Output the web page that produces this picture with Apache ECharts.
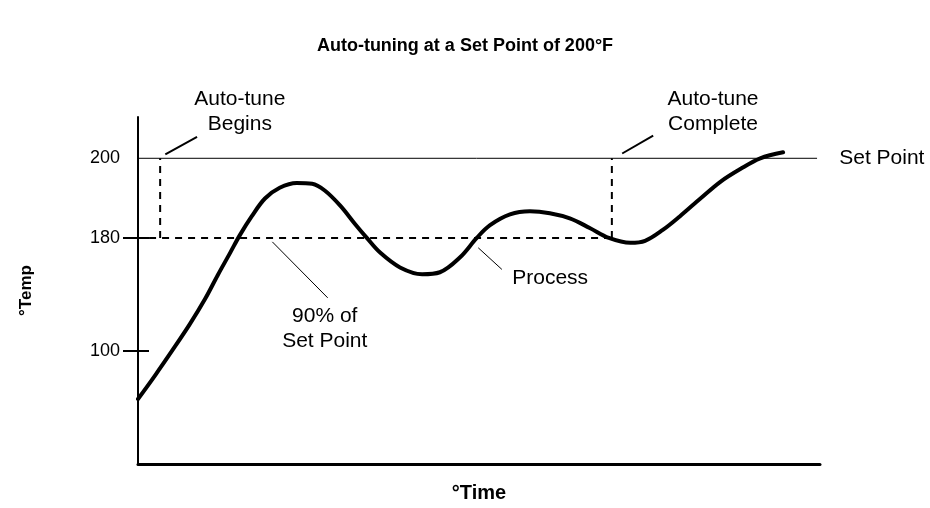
<!DOCTYPE html>
<html><head><meta charset="utf-8">
<script src="https://cdn.jsdelivr.net/npm/echarts@6/dist/echarts.min.js"></script>
<style>html,body{margin:0;padding:0;background:#fff}#c{width:930px;height:508px}</style>
</head><body><div id="c"></div>
<script>
// ---- data ----
const titleText = 'Auto-tuning at a Set Point of 200°F';
const yTickValues = [100, 180, 200];          // °F tick labels
const setPoint = 200;
const ninetyPct = 180;
// process curve: time (arbitrary units) and temperature (°F)
const timeVals = [0, 2.3, 4.6, 7.0, 9.1, 10.8, 12.5, 13.8, 15.4, 17.2, 19.2, 21.5, 23.6, 25.3, 27.4, 29.4, 31.0, 32.8, 35.5, 38.5, 40.9, 43.6, 45.9, 47.7, 50.4, 53.1, 55.8, 58.5, 61.2, 63.8, 66.7, 68.7, 71.1, 73.4, 76.2, 78.9, 81.6, 84.3, 87.4];
const tempVals = [66, 82.6, 100, 118.8, 136.9, 153.6, 169.6, 180.7, 185.4, 189.9, 192.6, 193.8, 193.6, 191.9, 188.1, 183.5, 180, 169.6, 159.1, 154.3, 155.7, 166.1, 180, 183.2, 185.9, 186.7, 186.2, 184.9, 182.5, 180, 176.5, 177.9, 182.0, 185.4, 189.9, 194.1, 197.3, 200, 201.5];
const autoTuneStart = 3.0, autoTuneEnd = 64.2;   // time of auto-tune begin / complete

// schematic (non-linear) temperature scale of the drawing: °F -> axis units
function toAxis(f) {
  return f >= 180 ? 230 + (f - 180) * 4.05 : 230 - (180 - f) * 1.4375;
}

const chart = echarts.init(document.getElementById('c'), null, {renderer: 'canvas'});
const FONT = 'Liberation Sans, Arial, sans-serif';
const black = '#000';

function seg(pts, width, type) {
  return {
    type: 'line', data: pts, symbol: 'none', clip: false, silent: true,
    lineStyle: {color: black, width: width, type: type || 'solid'},
    animation: false
  };
}

const curve = timeVals.map((t, i) => [t, toAxis(tempVals[i])]);

const option = {
  animation: false,
  title: {
    text: titleText, left: 'center', top: 32,
    textStyle: {fontFamily: FONT, fontSize: 18, fontWeight: 'bold', color: black}
  },
  grid: {left: 138, right: 110, top: 117, bottom: 21},
  xAxis: {
    type: 'value', min: 0, max: 92.4,
    name: '°Time', nameLocation: 'middle', nameGap: 19,
    nameTextStyle: {fontFamily: FONT, fontSize: 20, fontWeight: 'bold', color: black},
    axisLine: {lineStyle: {color: black, width: 3}},
    axisTick: {show: false}, axisLabel: {show: false}, splitLine: {show: false}
  },
  yAxis: [{
    type: 'value', min: 0, max: 353,
    name: '°Temp', nameLocation: 'middle', nameGap: 103, nameRotate: 90,
    nameTextStyle: {fontFamily: FONT, fontSize: 17, fontWeight: 'bold', color: black},
    axisLine: {show: true, lineStyle: {color: black, width: 2}},
    axisTick: {show: true, length: 15, customValues: [toAxis(100), toAxis(180)], lineStyle: {color: black, width: 2}},
    axisLabel: {
      show: true, margin: 18, customValues: yTickValues.map(toAxis),
      formatter: v => { const k = yTickValues.find(t => Math.abs(toAxis(t) - v) < 0.01); return k === undefined ? '' : String(k); },
      fontFamily: FONT, fontSize: 18, color: black
    },
    splitLine: {show: false}
  }, {
    type: 'value', min: 0, max: 353, position: 'left',
    axisLine: {show: false},
    axisTick: {show: true, inside: true, length: 11, customValues: [toAxis(100), toAxis(180)], lineStyle: {color: black, width: 2}},
    axisLabel: {show: false}, splitLine: {show: false}
  }],
  series: [
    seg([[-2.4, toAxis(setPoint)], [92.0, toAxis(setPoint)]], 1),
    seg([[1.5, toAxis(ninetyPct)], [autoTuneEnd, toAxis(ninetyPct)]], 2, [7, 6]),
    seg([[autoTuneStart, toAxis(ninetyPct)], [autoTuneStart, toAxis(setPoint)]], 2, [7, 6]),
    seg([[autoTuneEnd, toAxis(ninetyPct)], [autoTuneEnd, toAxis(setPoint)]], 2, [7, 6]),
    seg([[3.7, toAxis(201.0)], [8.0, toAxis(205.4)]], 2),
    seg([[65.6, toAxis(201.2)], [69.8, toAxis(205.7)]], 2),
    seg([[18.2, toAxis(177.2)], [25.7, toAxis(137.6)]], 1),
    seg([[46.1, toAxis(173.0)], [49.3, toAxis(157.7)]], 1),
    {
      type: 'line', data: curve, smooth: 0.35, symbol: 'none', silent: true,
      lineStyle: {color: black, width: 4, cap: 'round', join: 'round'}, animation: false
    }
  ]
};
chart.setOption(option);

const notes = [
  {text: 'Auto-tune\nBegins', t: 13.8, f: 205.4, align: 'center', vAlign: 'bottom', dy: 0},
  {text: 'Auto-tune\nComplete', t: 77.9, f: 205.4, align: 'center', vAlign: 'bottom', dy: 0},
  {text: 'Set Point', t: 95.0, f: setPoint, align: 'left', vAlign: 'middle', dy: 0},
  {text: '90% of\nSet Point', t: 25.3, f: 137.6, align: 'center', vAlign: 'top', dy: 6},
  {text: 'Process', t: 50.7, f: 157.7, align: 'left', vAlign: 'middle', dy: 9}
];
chart.setOption({
  graphic: notes.map(n => {
    const p = chart.convertToPixel({xAxisIndex: 0, yAxisIndex: 0}, [n.t, toAxis(n.f)]);
    return {
      type: 'text', x: p[0], y: p[1] + n.dy, silent: true,
      style: {text: n.text, fill: black, font: '21px ' + FONT, align: n.align, verticalAlign: n.vAlign, lineHeight: 25}
    };
  })
});
</script>
</body></html>
